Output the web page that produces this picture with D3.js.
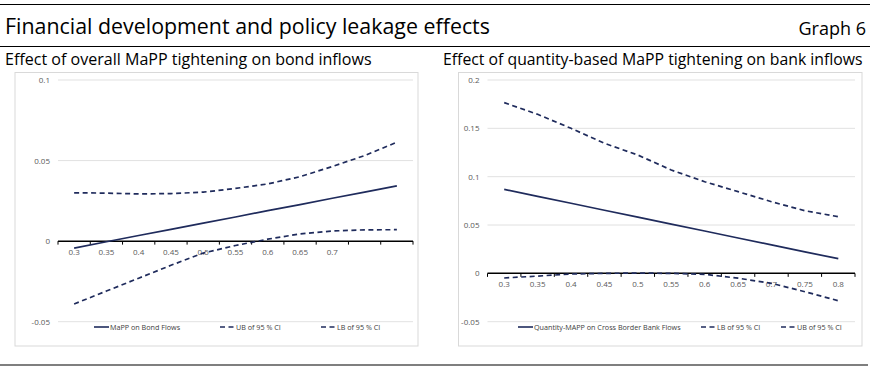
<!DOCTYPE html>
<html lang="en">

<head>
    <meta charset="UTF-8">
    <title>Financial development and policy leakage effects</title>
    <script src="https://d3js.org/d3.v7.min.js"></script>
    <style>
        body {
            margin: 0;
            background: #fff;
            font-family: "Open Sans", "Noto Sans", sans-serif;
        }

        .tick-label {
            font-size: 8px;
            fill: #595959;
        }

        .legend-label {
            font-size: 7.2px;
            fill: #404040;
        }

        .grid {
            stroke: #d9d9d9;
            stroke-width: 0.8;
        }
    </style>
</head>

<body>

    <svg width="870" height="370"></svg>

    <script>
        // data
        const leftCats = ["0.3", "0.35", "0.4", "0.45", "0.5", "0.55", "0.6", "0.65", "0.7", "", ""];
        const bondMain = [-0.0043, -0.0004, 0.0035, 0.0073, 0.0112, 0.0150, 0.0189, 0.0227, 0.0266, 0.0304, 0.0343];
        const bondUB = [0.0300, 0.0298, 0.0293, 0.0295, 0.0304, 0.0327, 0.0355, 0.0400, 0.0463, 0.0531, 0.0614];
        const bondLB = [-0.0390, -0.0310, -0.0230, -0.0150, -0.0074, -0.0027, 0.0012, 0.0045, 0.0063, 0.0070, 0.0071];
        const leftTicks = [-0.05, 0, 0.05, 0.1];

        const rightCats = ["0.3", "0.35", "0.4", "0.45", "0.5", "0.55", "0.6", "0.65", "0.7", "0.75", "0.8"];
        const bankMain = [0.0869, 0.0797, 0.0725, 0.0653, 0.0581, 0.0510, 0.0438, 0.0366, 0.0294, 0.0222, 0.0152];
        const bankLB = [-0.0048, -0.0028, -0.0007, 0.0000, 0.0003, 0.0000, -0.0010, -0.0050, -0.0103, -0.0190, -0.0283];
        const bankUB = [0.1766, 0.1645, 0.1500, 0.1345, 0.1224, 0.1069, 0.0948, 0.0845, 0.0741, 0.0648, 0.0586];
        const rightTicks = [-0.05, 0, 0.05, 0.1, 0.15, 0.2];

        const navy = "#1f2b5c";
        const svg = d3.select("svg");

        // header rules and titles
        svg.append("line").attr("x1", 0).attr("x2", 870).attr("y1", 4.5).attr("y2", 4.5)
            .attr("stroke", "#000").attr("stroke-width", 1.2);
        svg.append("line").attr("x1", 0).attr("x2", 870).attr("y1", 46.5).attr("y2", 46.5)
            .attr("stroke", "#000").attr("stroke-width", 1.2);
        svg.append("line").attr("x1", 0).attr("x2", 868).attr("y1", 365).attr("y2", 365)
            .attr("stroke", "#000").attr("stroke-width", 1.2);

        // header text squeezed horizontally to the reference width
        function squeezedText(str, x, y, size, width) {
            const g = svg.append("g");
            const t = g.append("text").attr("font-size", size).attr("fill", "#000").text(str);
            const sx = width / t.node().getComputedTextLength();
            g.attr("transform", `translate(${x},${y}) scale(${sx},1)`);
        }

        squeezedText("Financial development and policy leakage effects", 5, 34, 22, 485);
        squeezedText("Effect of overall MaPP tightening on bond inflows", 5, 65, 16.5, 367);
        squeezedText("Effect of quantity-based MaPP tightening on bank inflows", 443, 65, 16.5, 420);
        svg.append("text").attr("x", 866).attr("y", 35).attr("text-anchor", "end")
            .attr("font-size", 18).attr("fill", "#000")
            .text("Graph 6");

        function drawPanel(p) {
            const g = svg.append("g");

            g.append("rect").attr("x", p.box[0]).attr("y", 72.5)
                .attr("width", p.box[1] - p.box[0]).attr("height", 346 - 72.5)
                .attr("fill", "none").attr("stroke", "#d9d9d9");

            const x = d3.scaleBand().domain(d3.range(p.cats.length)).range(p.xRange);
            const y = d3.scaleLinear().domain(p.yDomain).range([321.7, 80]);
            const cx = i => x(i) + x.bandwidth() / 2;

            // gridlines and y labels
            g.selectAll(".grid").data(p.yTicks.filter(t => t !== 0)).enter().append("line")
                .attr("class", "grid")
                .attr("x1", p.xRange[0]).attr("x2", p.xRange[1])
                .attr("y1", d => y(d)).attr("y2", d => y(d));
            g.selectAll(".ylab").data(p.yTicks).enter().append("text")
                .attr("class", "tick-label")
                .attr("x", p.xRange[0] - 8).attr("y", d => y(d) + 3)
                .attr("text-anchor", "end")
                .text(d => d);

            // category axis at zero
            g.append("line").attr("x1", p.xRange[0]).attr("x2", p.xRange[1])
                .attr("y1", y(0)).attr("y2", y(0))
                .attr("stroke", "#000").attr("stroke-width", 1.5);
            const edges = d3.range(p.cats.length).map(i => x(i)).concat([p.xRange[1]]);
            g.selectAll(".xtick").data(edges).enter().append("line")
                .attr("x1", d => d).attr("x2", d => d)
                .attr("y1", y(0)).attr("y2", y(0) + 3.5)
                .attr("stroke", "#000").attr("stroke-width", 1);
            g.selectAll(".xlab").data(p.cats).enter().append("text")
                .attr("class", "tick-label")
                .attr("x", (d, i) => cx(i)).attr("y", y(0) + 14)
                .attr("text-anchor", "middle")
                .text(d => d);

            const line = d3.line().x((d, i) => cx(i)).y(d => y(d));
            p.series.forEach(s => {
                g.append("path").datum(s.values)
                    .attr("d", line)
                    .attr("fill", "none")
                    .attr("stroke", navy)
                    .attr("stroke-width", 1.7)
                    .attr("stroke-dasharray", s.dashed ? "5,3.5" : null);
            });

            // legend
            p.series.forEach((s, i) => {
                const lx = p.legendX[i];
                g.append("line").attr("x1", lx).attr("x2", lx + 15)
                    .attr("y1", 327).attr("y2", 327)
                    .attr("stroke", navy).attr("stroke-width", 1.6)
                    .attr("stroke-dasharray", s.dashed ? "5,3.5" : null);
                g.append("text").attr("class", "legend-label")
                    .attr("x", lx + 16).attr("y", 329.5)
                    .text(s.name);
            });
        }

        drawPanel({
            box: [15, 418],
            xRange: [58, 413],
            yDomain: [-0.05, 0.1],
            yTicks: leftTicks,
            cats: leftCats,
            series: [
                { name: "MaPP on Bond Flows", values: bondMain, dashed: false },
                { name: "UB of 95 % CI", values: bondUB, dashed: true },
                { name: "LB of 95 % CI", values: bondLB, dashed: true }
            ],
            legendX: [94, 220, 321]
        });

        drawPanel({
            box: [458.5, 862],
            xRange: [487.5, 855],
            yDomain: [-0.05, 0.2],
            yTicks: rightTicks,
            cats: rightCats,
            series: [
                { name: "Quantity-MAPP on Cross Border Bank Flows", values: bankMain, dashed: false },
                { name: "LB of 95 % CI", values: bankLB, dashed: true },
                { name: "UB of 95 % CI", values: bankUB, dashed: true }
            ],
            legendX: [518, 701, 781]
        });
    </script>

</body>

</html>
